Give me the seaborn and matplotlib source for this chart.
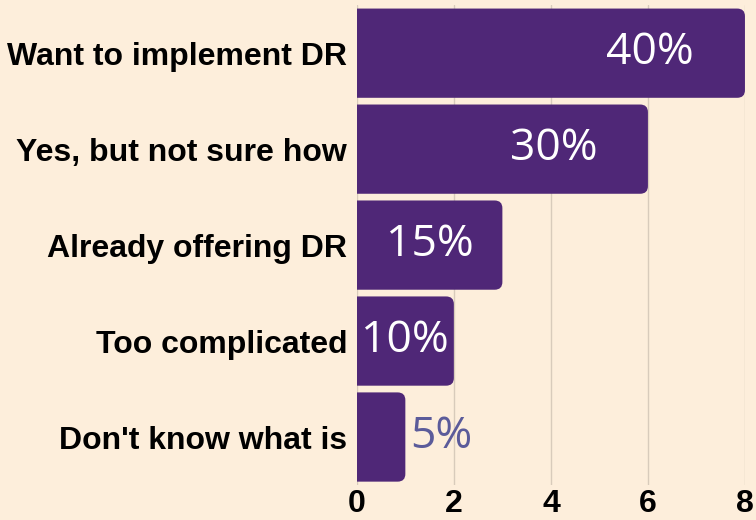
import matplotlib
matplotlib.use("Agg")
import matplotlib.pyplot as plt
from matplotlib.patches import FancyBboxPatch
import seaborn as sns
import pandas as pd

# donnees du graphique
categories = ["Want to implement DR", "Yes, but not sure how", "Already offering DR",
              "Too complicated", "Don't know what is"]
valeurs = [8, 6, 3, 2, 1]
pourcentages = ["40%", "30%", "15%", "10%", "5%"]

df = pd.DataFrame({"categorie": categories, "valeur": valeurs})

fond = "#FDEEDB"
violet = "#4F2777"

sns.set_theme(style="white")
plt.rcParams["font.family"] = ["Liberation Sans", "DejaVu Sans"]

fig = plt.figure(figsize=(7.56, 5.2), dpi=100, facecolor=fond)
ax = fig.add_axes([0.472, 0.0673, 0.5134, 0.9227])
ax.set_facecolor(fond)

sns.barplot(data=df, x="valeur", y="categorie", color=violet, width=0.93,
            saturation=1, ax=ax, zorder=3)

ax.set_xlim(0, 8)
ax.set_ylim(4.5, -0.5)
ax.set_xticks([0, 2, 4, 6, 8])
ax.grid(axis="x", color="#D8CBBB", linewidth=1, zorder=0)
for s in ax.spines.values():
    s.set_visible(False)

# coins arrondis a droite
r = 0.16
for p in list(ax.patches):
    x, y, w, h = p.get_x(), p.get_y(), p.get_width(), p.get_height()
    rb = FancyBboxPatch((x - r * 2, y), w + r * 2, h,
                        boxstyle=f"round,pad=0,rounding_size={r}",
                        mutation_aspect=0.5, facecolor=violet, edgecolor="none",
                        zorder=3)
    ax.add_patch(rb)
    p.remove()

# etiquettes de pourcentage
police = ["Open Sans", "DejaVu Sans"]
for i, (v, t) in enumerate(zip(valeurs, pourcentages)):
    if v >= 2:
        ax.text(max(v / 2, v - 1.95), i, t, ha="center", va="center",
                color="white", fontsize=32, family=police, zorder=4)
    else:
        ax.text(v + 0.1, i, t, ha="left", va="center",
                color="#5B5B9A", fontsize=32, family=police, zorder=4)

ax.set_xlabel("")
ax.set_ylabel("")
ax.tick_params(axis="both", length=0)
ax.tick_params(axis="y", pad=7)
ax.tick_params(axis="x", pad=3)
for lab in ax.get_yticklabels() + ax.get_xticklabels():
    lab.set_fontsize(23)
    lab.set_fontweight("bold")
    lab.set_color("black")

fig.savefig("out.png", dpi=100, facecolor=fond)
